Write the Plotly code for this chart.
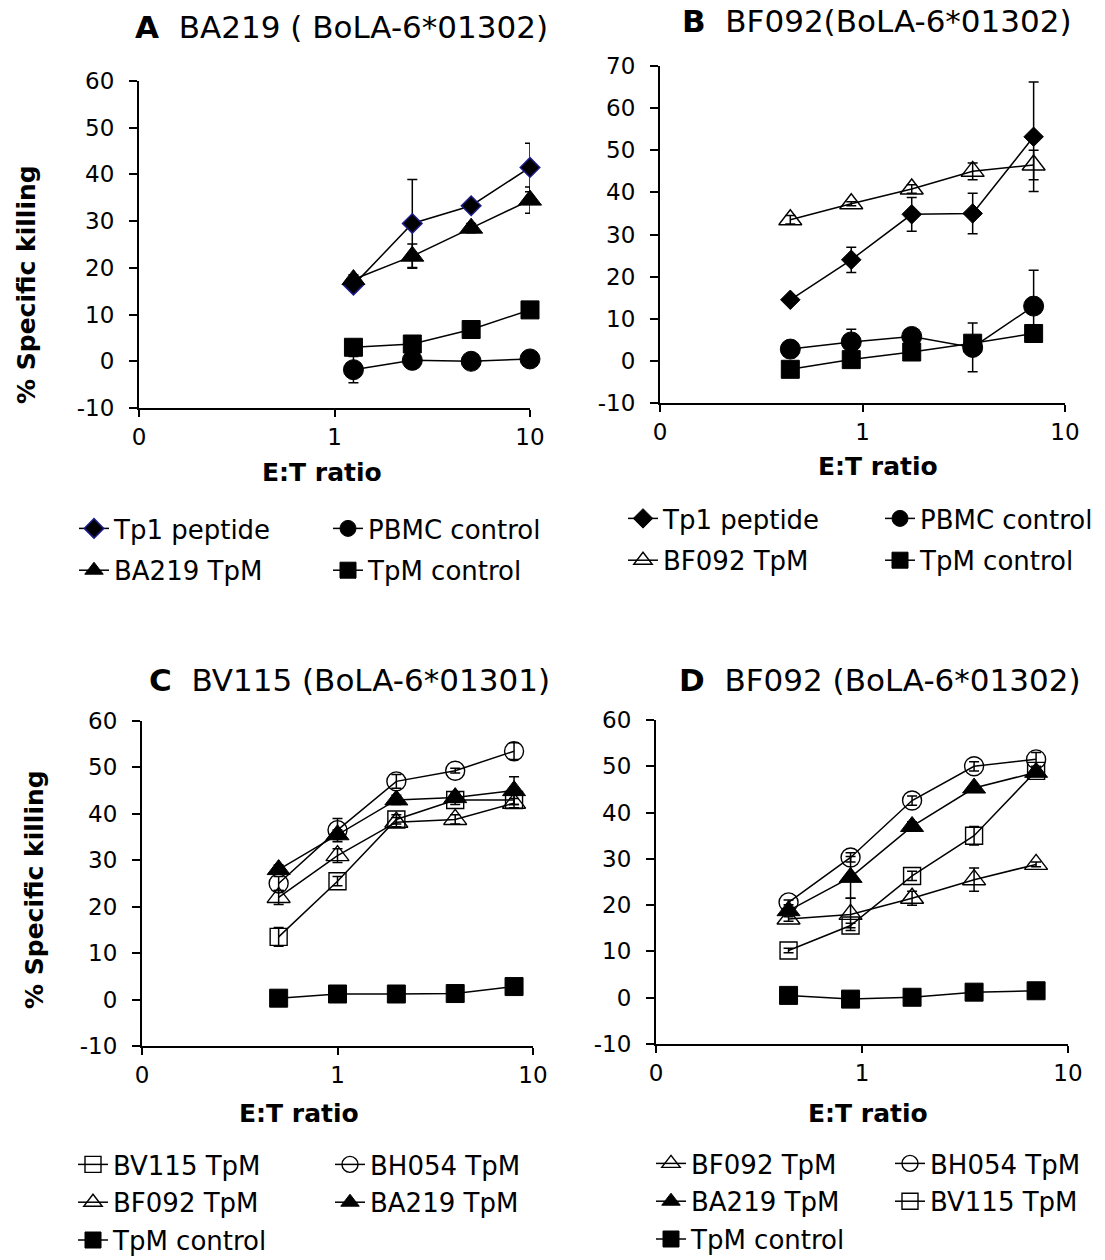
import plotly.graph_objects as go

W, H = 1105, 1260
FONT = "DejaVu Sans"

# ---------------- data ----------------
# Panel A  BA219 ( BoLA-6*01302)
a_x = [1.25, 2.5, 5, 10]
a_tp1 = [16.3, 29.5, 33.3, 41.5]
a_tp1_err = [0.6, 9.4, 0.8, 5.2]
a_ba219 = [17.5, 22.5, 28.5, 34.5]
a_ba219_err = [1.0, 2.6, 1.0, 2.8]
a_pbmc = [-1.8, 0.2, 0.0, 0.5]
a_pbmc_err = [2.8, 0.4, 0.3, 0.3]
a_tpmc = [3.0, 3.7, 6.8, 11.0]
a_tpmc_err = [0.5, 0.8, 0.5, 1.5]

# Panel B  BF092(BoLA-6*01302)
b_x = [0.44, 0.88, 1.75, 3.5, 7]
b_tp1 = [14.5, 24.0, 34.8, 35.0, 53.2]
b_tp1_err = [0.5, 3.0, 4.0, 4.8, 13.0]
b_bf092 = [33.5, 37.3, 40.8, 45.0, 46.5]
b_bf092_err = [1.0, 0.5, 1.0, 2.0, 3.5]
b_pbmc = [2.8, 4.5, 5.8, 3.2, 13.0]
b_pbmc_err = [2.0, 3.0, 1.0, 5.8, 8.5]
b_tpmc = [-2.0, 0.3, 2.1, 4.2, 6.5]
b_tpmc_err = [0.5, 0.5, 0.5, 0.5, 0.5]

# Panel C  BV115 (BoLA-6*01301)
c_x = [0.5, 1, 2, 4, 8]
c_bv115 = [13.5, 25.5, 38.8, 43.0, 43.0]
c_bv115_err = [2.0, 1.0, 1.0, 1.0, 1.0]
c_bf092 = [22.0, 31.0, 38.2, 38.8, 42.3]
c_bf092_err = [1.5, 1.5, 1.0, 1.0, 1.0]
c_bh054 = [25.0, 36.5, 47.0, 49.3, 53.5]
c_bh054_err = [1.5, 2.5, 1.5, 0.5, 1.8]
c_ba219 = [28.0, 35.5, 43.0, 43.5, 45.0]
c_ba219_err = [1.0, 1.0, 1.0, 1.0, 3.0]
c_tpmc = [0.3, 1.2, 1.2, 1.3, 2.8]
c_tpmc_err = [0.3, 0.3, 0.3, 0.3, 0.3]

# Panel D  BF092 (BoLA-6*01302)
d_x = [0.44, 0.88, 1.75, 3.5, 7]
d_bf092 = [17.0, 18.0, 21.5, 25.5, 28.8]
d_bf092_err = [0.5, 3.5, 1.5, 2.5, 0.5]
d_bh054 = [20.6, 30.3, 42.6, 50.0, 51.5]
d_bh054_err = [0.5, 1.0, 1.0, 1.0, 1.5]
d_ba219 = [18.8, 26.0, 37.0, 45.3, 48.7]
d_ba219_err = [0.5, 4.5, 1.0, 0.5, 0.5]
d_bv115 = [10.2, 15.6, 26.3, 35.0, 49.0]
d_bv115_err = [0.5, 0.5, 1.0, 2.0, 0.5]
d_tpmc = [0.5, -0.3, 0.1, 1.2, 1.5]
d_tpmc_err = [0.3, 0.3, 0.3, 0.3, 0.3]

# ticks
x_tickvals = [0.1, 1, 10]
x_ticktext = ["0", "1", "10"]
y_tickvals_60 = [-10, 0, 10, 20, 30, 40, 50, 60]
y_tickvals_70 = [-10, 0, 10, 20, 30, 40, 50, 60, 70]

titles = {
    "A": ("A", "BA219 ( BoLA-6*01302)"),
    "B": ("B", "BF092(BoLA-6*01302)"),
    "C": ("C", "BV115 (BoLA-6*01301)"),
    "D": ("D", "BF092 (BoLA-6*01302)"),
}

# ---------------- figure ----------------
fig = go.Figure()

STY = {
    "diamond_navy": dict(symbol="diamond", size=15, color="black", line=dict(color="#1c1c8a", width=1.5)),
    "diamond": dict(symbol="diamond", size=15, color="black", line=dict(color="black", width=1)),
    "circle": dict(symbol="circle", size=20, color="black", line=dict(color="black", width=1)),
    "square": dict(symbol="square", size=18, color="black", line=dict(color="black", width=1)),
    "tri": dict(symbol="triangle-up", size=20, color="black", line=dict(color="black", width=1)),
    "tri_open": dict(symbol="triangle-up-open", size=20, color="black", line=dict(color="black", width=1.4)),
    "circle_open": dict(symbol="circle-open", size=19, color="black", line=dict(color="black", width=1.4)),
    "square_open": dict(symbol="square-open", size=17, color="black", line=dict(color="black", width=1.4)),
}


def add(xs, ys, err, name, style, xa, ya, legend, group):
    fig.add_trace(go.Scatter(
        x=xs, y=ys, name=name, mode="lines+markers",
        line=dict(color="black", width=1.5),
        marker=STY[style], cliponaxis=False,
        error_y=dict(type="data", array=err, symmetric=True, color="black", thickness=1.5, width=5),
        xaxis=xa, yaxis=ya, legend=legend, legendgroup=group, showlegend=True,
    ))


# A
add(a_x, a_tp1, a_tp1_err, "Tp1 peptide", "diamond_navy", "x", "y", "legend", "a1")
add(a_x, a_ba219, a_ba219_err, "BA219 TpM", "tri", "x", "y", "legend", "a2")
add(a_x, a_pbmc, a_pbmc_err, "PBMC control", "circle", "x", "y", "legend2", "a3")
add(a_x, a_tpmc, a_tpmc_err, "TpM control", "square", "x", "y", "legend2", "a4")
# B
add(b_x, b_tp1, b_tp1_err, "Tp1 peptide", "diamond", "x2", "y2", "legend3", "b1")
add(b_x, b_bf092, b_bf092_err, "BF092 TpM", "tri_open", "x2", "y2", "legend3", "b2")
add(b_x, b_pbmc, b_pbmc_err, "PBMC control", "circle", "x2", "y2", "legend4", "b3")
add(b_x, b_tpmc, b_tpmc_err, "TpM control", "square", "x2", "y2", "legend4", "b4")
# C
add(c_x, c_bv115, c_bv115_err, "BV115 TpM", "square_open", "x3", "y3", "legend5", "c1")
add(c_x, c_bf092, c_bf092_err, "BF092 TpM", "tri_open", "x3", "y3", "legend5", "c2")
add(c_x, c_tpmc, c_tpmc_err, "TpM control", "square", "x3", "y3", "legend5", "c3")
add(c_x, c_bh054, c_bh054_err, "BH054 TpM", "circle_open", "x3", "y3", "legend6", "c4")
add(c_x, c_ba219, c_ba219_err, "BA219 TpM", "tri", "x3", "y3", "legend6", "c5")
# D
add(d_x, d_bf092, d_bf092_err, "BF092 TpM", "tri_open", "x4", "y4", "legend7", "d1")
add(d_x, d_ba219, d_ba219_err, "BA219 TpM", "tri", "x4", "y4", "legend7", "d2")
add(d_x, d_tpmc, d_tpmc_err, "TpM control", "square", "x4", "y4", "legend7", "d3")
add(d_x, d_bh054, d_bh054_err, "BH054 TpM", "circle_open", "x4", "y4", "legend8", "d4")
add(d_x, d_bv115, d_bv115_err, "BV115 TpM", "square_open", "x4", "y4", "legend8", "d5")


def px_x(l, r):
    return [l / W, r / W]


def px_y(top, bottom):
    return [1 - bottom / H, 1 - top / H]


def xaxis(dom, anchor):
    return dict(domain=dom, anchor=anchor, type="log", range=[-1, 1],
                tickvals=x_tickvals, ticktext=x_ticktext,
                showline=True, linecolor="black", linewidth=2,
                ticks="outside", ticklen=7, tickwidth=2, tickcolor="black",
                ticklabelstandoff=0,
                showgrid=False, zeroline=False,
                tickfont=dict(family=FONT, size=23, color="black"))


def yaxis(dom, anchor, top, vals):
    return dict(domain=dom, anchor=anchor, range=[-10, top],
                tickvals=vals, ticktext=[str(v) for v in vals],
                showline=True, linecolor="black", linewidth=2,
                ticks="outside", ticklen=8, tickwidth=2, tickcolor="black",
                ticklabelstandoff=10,
                showgrid=False, zeroline=False,
                tickfont=dict(family=FONT, size=23, color="black"))


def legend(left, top, gap):
    return dict(x=left / W, y=1 - top / H, xanchor="left", yanchor="top",
                orientation="v", traceorder="grouped", tracegroupgap=gap,
                font=dict(family=FONT, size=26, color="black"),
                bgcolor="rgba(0,0,0,0)", borderwidth=0, itemwidth=30)


layout = dict(
    width=W, height=H,
    margin=dict(l=0, r=0, t=0, b=0, autoexpand=False),
    paper_bgcolor="white", plot_bgcolor="white",
    font=dict(family=FONT, color="black"),
    xaxis=xaxis(px_x(139, 530), "y"),
    yaxis=yaxis(px_y(81, 408), "x", 60, y_tickvals_60),
    xaxis2=xaxis(px_x(660, 1065), "y2"),
    yaxis2=yaxis(px_y(66, 403), "x2", 70, y_tickvals_70),
    xaxis3=xaxis(px_x(142, 533), "y3"),
    yaxis3=yaxis(px_y(721, 1046), "x3", 60, y_tickvals_60),
    xaxis4=xaxis(px_x(656, 1068), "y4"),
    yaxis4=yaxis(px_y(720, 1044), "x4", 60, y_tickvals_60),
    legend=legend(74, 505, 5),
    legend2=legend(328, 505, 5),
    legend3=legend(623, 495, 5),
    legend4=legend(880, 495, 5),
    legend5=legend(73, 1141, 1),
    legend6=legend(330, 1141, 1),
    legend7=legend(651, 1140, 1),
    legend8=legend(890, 1140, 1),
    showlegend=True,
)
fig.update_layout(**layout)

NB = "\u00a0"
anns = []
title_pos = {"A": (133, 27), "B": (680, 21), "C": (147, 680), "D": (677, 680)}
for k, (letter, txt) in titles.items():
    lx, ly = title_pos[k]
    anns.append(dict(text=f"<b>{letter}</b>{NB}{NB}{txt}", x=lx / W, y=1 - ly / H,
                     xref="paper", yref="paper", xanchor="left", yanchor="middle",
                     showarrow=False, font=dict(family=FONT, size=31, color="black")))

for (cx, cy) in [(322, 472), (878, 466), (299, 1113), (868, 1113)]:
    anns.append(dict(text="<b>E:T ratio</b>", x=cx / W, y=1 - cy / H, xref="paper", yref="paper",
                     xanchor="center", yanchor="middle", showarrow=False,
                     font=dict(family=FONT, size=25, color="black")))

for (cx, cy) in [(27, 285), (34, 890)]:
    anns.append(dict(text="<b>% Specific killing</b>", x=cx / W, y=1 - cy / H, xref="paper", yref="paper",
                     xanchor="center", yanchor="middle", textangle=-90, showarrow=False,
                     font=dict(family=FONT, size=25, color="black")))

fig.update_layout(annotations=anns)

fig.write_html(
    "out.html",
    config={"displayModeBar": False},
    post_script="document.body.style.margin='0';document.body.style.padding='0';document.body.style.overflow='hidden';",
)
